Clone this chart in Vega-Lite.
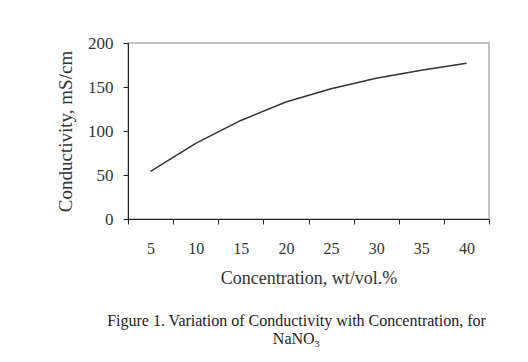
{
  "$schema": "https://vega.github.io/schema/vega-lite/v6.json",
  "autosize": {"type": "none"},
  "width": 361,
  "height": 176,
  "padding": {"left": 128, "top": 43, "right": 39, "bottom": 143},
  "background": "white",
  "config": {
    "view": {"stroke": "#b0b0b0", "strokeWidth": 1.5},
    "font": "Liberation Serif"
  },
  "data": {
    "values": [
      {"conc": 5, "cond": 54},
      {"conc": 10, "cond": 86},
      {"conc": 15, "cond": 112},
      {"conc": 20, "cond": 133},
      {"conc": 25, "cond": 148},
      {"conc": 30, "cond": 160},
      {"conc": 35, "cond": 169},
      {"conc": 40, "cond": 177}
    ]
  },
  "mark": {"type": "line", "color": "#333333", "strokeWidth": 1.5},
  "encoding": {
    "x": {
      "field": "conc",
      "type": "ordinal",
      "scale": {"type": "band", "paddingInner": 0, "paddingOuter": 0},
      "axis": {
        "title": "Concentration, wt/vol.%",
        "labelAngle": 0,
        "tickBand": "extent",
        "tickSize": 5,
        "labelPadding": 16,
        "titlePadding": 13,
        "domainColor": "#222222",
        "tickColor": "#222222",
        "labelFont": "Liberation Serif",
        "labelFontSize": 16,
        "labelColor": "#333333",
        "titleFont": "Liberation Serif",
        "titleFontSize": 18,
        "titleFontWeight": "normal",
        "titleColor": "#333333"
      }
    },
    "y": {
      "field": "cond",
      "type": "quantitative",
      "scale": {"domain": [0, 200]},
      "axis": {
        "values": [0, 50, 100, 150, 200],
        "title": "Conductivity, mS/cm",
        "grid": false,
        "tickSize": 5,
        "labelPadding": 10,
        "titlePadding": 12,
        "domainColor": "#222222",
        "tickColor": "#222222",
        "labelFont": "Liberation Serif",
        "labelFontSize": 17,
        "labelColor": "#333333",
        "titleFont": "Liberation Serif",
        "titleFontSize": 19,
        "titleFontWeight": "normal",
        "titleColor": "#333333"
      }
    }
  },
  "title": {
    "text": ["Figure 1. Variation of Conductivity with Concentration, for", "NaNO₃"],
    "orient": "bottom",
    "anchor": "middle",
    "dx": -12,
    "offset": 26,
    "font": "Liberation Serif",
    "fontSize": 16,
    "fontWeight": "normal",
    "color": "#222222",
    "lineHeight": 18
  }
}
